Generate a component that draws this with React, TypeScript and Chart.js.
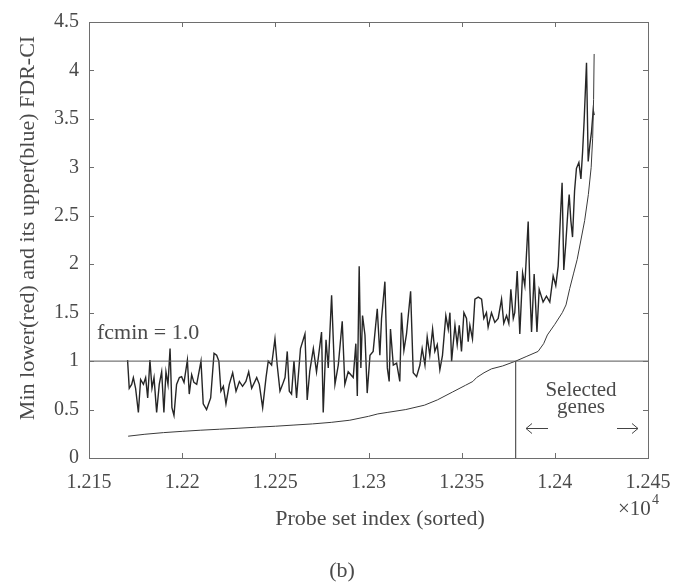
import React, { useEffect, useRef } from "react";
import { Chart, registerables } from "chart.js";

Chart.register(...registerables);

// ---- data -------------------------------------------------------------
const xTickLabels = ["1.215", "1.22", "1.225", "1.23", "1.235", "1.24", "1.245"];
const yTickLabels = ["0", "0.5", "1", "1.5", "2", "2.5", "3", "3.5", "4", "4.5"];
const xMin = 12150;
const xMax = 12450;
const xStep = 50;
const yMin = 0;
const yMax = 4.5;
const yStep = 0.5;

const fcmin = 1.0;
const cutoffIndex = 12379;

// upper (jagged) FDR-CI curve
const upperIdx = [
  12170.7, 12171.6, 12172.9, 12173.8, 12175.0, 12176.5, 12177.7, 12179.2, 12180.4, 12181.5,
  12182.7, 12183.8, 12184.9, 12186.3, 12187.7, 12189.0, 12190.2, 12191.3, 12192.4, 12193.5,
  12194.5, 12195.6, 12197.0, 12198.5, 12199.7, 12201.0, 12202.8, 12203.8, 12205.1, 12206.3,
  12207.8, 12210.1, 12211.3, 12213.1, 12215.3, 12217.1, 12218.5, 12219.7, 12220.8, 12222.1,
  12223.5, 12225.3, 12227.1, 12228.9, 12230.7, 12232.4, 12234.2, 12235.7, 12237.3, 12240.0,
  12241.4, 12243.2, 12245.0, 12246.2, 12248.0, 12249.8, 12251.0, 12252.5, 12253.9, 12255.2,
  12256.4, 12257.5, 12258.7, 12260.0, 12261.4, 12263.5, 12265.9, 12267.1, 12268.5, 12270.4,
  12272.1, 12274.8, 12275.7, 12277.2, 12278.4, 12280.2, 12282.0, 12283.8, 12285.9, 12287.3,
  12289.1, 12291.8, 12293.2, 12294.0, 12295.0, 12295.9, 12296.8, 12298.1, 12299.3, 12300.8,
  12302.5, 12304.7, 12306.1, 12307.0, 12308.8, 12310.1, 12311.1, 12311.8, 12313.3, 12315.1,
  12316.8, 12317.7, 12319.0, 12320.4, 12322.6, 12324.0, 12325.8, 12327.6, 12328.8, 12330.3,
  12331.5, 12332.9, 12334.4, 12335.6, 12336.9, 12338.3, 12339.7, 12341.5, 12342.8, 12343.7,
  12344.6, 12346.4, 12347.6, 12348.7, 12349.9, 12351.2, 12352.6, 12353.5, 12354.4, 12355.8,
  12357.1, 12358.9, 12360.7, 12361.9, 12363.3, 12364.2, 12366.0, 12367.8, 12369.6, 12371.4,
  12372.6, 12374.1, 12375.3, 12376.4, 12377.7, 12378.5, 12379.8, 12381.2, 12382.7, 12383.9,
  12385.7, 12386.6, 12387.5, 12388.9, 12390.4, 12391.6, 12393.7, 12395.5, 12397.3, 12399.1,
  12400.5, 12401.8, 12403.0, 12403.9, 12404.8, 12405.9, 12407.0, 12407.7, 12408.6, 12409.5,
  12410.6, 12411.6, 12412.9, 12414.0, 12414.9, 12415.7, 12417.0, 12417.9, 12418.8, 12419.7,
  12420.6, 12421.1,
];
const upperVal = [
  1.01, 0.72, 0.76, 0.83, 0.72, 0.47, 0.81, 0.76, 0.83, 0.62,
  1.01, 0.72, 0.83, 0.47, 0.76, 0.89, 0.47, 0.89, 0.76, 1.13,
  0.52, 0.44, 0.76, 0.83, 0.84, 0.78, 1.01, 0.66, 0.86, 0.78,
  0.76, 1.0, 0.56, 0.5, 0.62, 1.08, 1.06, 1.0, 0.69, 0.74,
  0.56, 0.76, 0.88, 0.69, 0.79, 0.74, 0.79, 0.89, 0.72, 0.83,
  0.76, 0.52, 0.83, 1.0, 0.96, 1.23, 0.96, 0.69, 0.76, 0.83,
  1.1, 0.69, 0.66, 1.0, 0.62, 1.13, 1.28, 0.6, 0.9, 1.13,
  0.89, 1.3, 0.47, 1.22, 0.93, 1.68, 0.76, 0.96, 1.41, 0.76,
  0.89, 0.83, 1.18, 0.64, 1.98, 0.93, 1.47, 1.27, 0.67, 1.06,
  1.1, 1.54, 1.06, 1.44, 1.82, 0.93, 0.79, 1.33, 0.96, 0.98,
  0.79, 1.5, 1.11, 1.28, 1.72, 0.88, 0.84, 0.96, 1.13, 0.96,
  1.25, 1.06, 1.33, 1.1, 1.17, 0.91, 1.06, 1.47, 1.33, 1.5,
  1.0, 1.37, 1.17, 1.37, 1.1, 1.5, 1.44, 1.2, 1.37, 1.23,
  1.64, 1.66, 1.64, 1.44, 1.5, 1.35, 1.5, 1.4, 1.44, 1.64,
  1.39, 1.47, 1.39, 1.74, 1.44, 1.5, 1.93, 1.28, 1.91, 1.78,
  2.44, 1.75, 1.3, 1.9, 1.3, 1.74, 1.61, 1.67, 1.61, 1.88,
  1.78, 1.98, 2.49, 2.84, 1.94, 2.22, 2.55, 2.72, 2.45, 2.28,
  2.76, 2.99, 3.05, 2.88, 3.16, 3.47, 4.08, 3.06, 3.23, 3.37,
  3.59, 3.54,
];

// lower (smooth) FDR-CI curve
const lowerIdx = [
  12171, 12180, 12190, 12200, 12210, 12220, 12230, 12240, 12250, 12260,
  12270, 12280, 12290, 12300, 12305, 12310, 12320, 12330, 12337, 12345,
  12352, 12356, 12358, 12362, 12366, 12372, 12379, 12385, 12391, 12394,
  12396, 12400, 12404, 12406, 12408, 12410, 12412, 12414, 12416, 12418,
  12419.5, 12420.3, 12420.8, 12421.1,
];
const lowerVal = [
  0.225, 0.245, 0.262, 0.275, 0.287, 0.297, 0.307, 0.318, 0.328, 0.34,
  0.352, 0.368, 0.39, 0.43, 0.455, 0.47, 0.5, 0.545, 0.6, 0.68,
  0.75, 0.79, 0.83, 0.88, 0.92, 0.95, 1.0, 1.05, 1.1, 1.18,
  1.27, 1.38, 1.5, 1.58, 1.75, 1.9, 2.05, 2.25, 2.45, 2.72,
  3.0, 3.3, 3.7, 4.17,
];

// ---- drawing ----------------------------------------------------------
const SERIF = "'Liberation Serif', 'Times New Roman', serif";
const TEXT = "#4a4a4a";

function drawArrow(ctx: CanvasRenderingContext2D, x0: number, x1: number, y: number) {
  const dir = x1 > x0 ? 1 : -1;
  ctx.beginPath();
  ctx.moveTo(x0, y);
  ctx.lineTo(x1, y);
  ctx.moveTo(x1 - dir * 6, y - 5);
  ctx.lineTo(x1, y);
  ctx.lineTo(x1 - dir * 6, y + 5);
  ctx.stroke();
}

const framePlugin = {
  id: "frameAndText",
  afterDraw(chart: any) {
    const { ctx, chartArea, scales } = chart;
    const { left, right, top, bottom } = chartArea;
    const xs = scales.x;
    const ys = scales.y;
    ctx.save();
    ctx.strokeStyle = "#6e6e6e";
    ctx.lineWidth = 1;
    ctx.strokeRect(Math.round(left) + 0.5, Math.round(top) + 0.5, Math.round(right - left), Math.round(bottom - top));
    const tl = 5;
    ctx.beginPath();
    xs.ticks.forEach((t: any) => {
      const px = Math.round(xs.getPixelForValue(t.value)) + 0.5;
      ctx.moveTo(px, bottom);
      ctx.lineTo(px, bottom - tl);
      ctx.moveTo(px, top);
      ctx.lineTo(px, top + tl);
    });
    ys.ticks.forEach((t: any) => {
      const py = Math.round(ys.getPixelForValue(t.value)) + 0.5;
      ctx.moveTo(left, py);
      ctx.lineTo(left + tl, py);
      ctx.moveTo(right, py);
      ctx.lineTo(right - tl, py);
    });
    ctx.stroke();

    ctx.fillStyle = TEXT;
    // axis titles
    ctx.font = `22px ${SERIF}`;
    ctx.textAlign = "center";
    ctx.textBaseline = "middle";
    ctx.fillText("Probe set index (sorted)", 380, 519);
    ctx.save();
    ctx.translate(28, 228);
    ctx.rotate(-Math.PI / 2);
    ctx.fillText("Min lower(red) and its upper(blue) FDR-CI", 0, 0);
    ctx.restore();
    // x10^4
    ctx.textAlign = "left";
    ctx.font = `21px ${SERIF}`;
    ctx.fillText("\u00d710", 618, 509);
    ctx.font = `14px ${SERIF}`;
    ctx.fillText("4", 652, 500);
    // caption
    ctx.textAlign = "center";
    ctx.font = `22px ${SERIF}`;
    ctx.fillText("(b)", 342, 571);
    // annotations
    ctx.textAlign = "left";
    ctx.textBaseline = "alphabetic";
    ctx.fillText("fcmin = 1.0", 97, 339);
    ctx.textAlign = "center";
    ctx.font = `21px ${SERIF}`;
    ctx.fillText("Selected", 581, 396);
    ctx.fillText("genes", 581, 413);
    ctx.strokeStyle = "#444";
    ctx.lineWidth = 1;
    drawArrow(ctx, 548, 526, 428.5);
    drawArrow(ctx, 617, 638, 428.5);
    ctx.restore();
  },
};

export default function App() {
  const ref = useRef<HTMLCanvasElement | null>(null);
  useEffect(() => {
    if (!ref.current) return;
    const upper = upperIdx.map((x, i) => ({ x, y: upperVal[i] }));
    const lower = lowerIdx.map((x, i) => ({ x, y: lowerVal[i] }));
    const chart = new Chart(ref.current, {
      type: "line",
      data: {
        datasets: [
          {
            data: [
              { x: xMin, y: fcmin },
              { x: xMax, y: fcmin },
            ],
            borderColor: "#555",
            borderWidth: 1,
            pointRadius: 0,
          },
          {
            data: [
              { x: cutoffIndex, y: yMin },
              { x: cutoffIndex, y: fcmin },
            ],
            borderColor: "#333",
            borderWidth: 1,
            pointRadius: 0,
          },
          {
            data: lower,
            borderColor: "#3a3a3a",
            borderWidth: 1,
            pointRadius: 0,
          },
          {
            data: upper,
            borderColor: "#262626",
            borderWidth: 1.4,
            pointRadius: 0,
          },
        ],
      },
      options: {
        animation: false,
        responsive: false,
        parsing: false as any,
        layout: { padding: { left: 0, right: 37, top: 15, bottom: 0 } },
        plugins: { legend: { display: false }, tooltip: { enabled: false } },
        elements: { line: { tension: 0 } },
        scales: {
          x: {
            type: "linear",
            min: xMin,
            max: xMax,
            grid: { display: false, drawTicks: false },
            border: { display: false },
            ticks: {
              stepSize: xStep,
              autoSkip: false,
              maxRotation: 0,
              padding: 13,
              color: TEXT,
              font: { family: SERIF, size: 20 },
              callback: (v: any) => xTickLabels[Math.round((Number(v) - xMin) / xStep)],
            },
            afterFit: (s: any) => {
              s.height = 125;
            },
          },
          y: {
            type: "linear",
            min: yMin,
            max: yMax,
            grid: { display: false, drawTicks: false },
            border: { display: false },
            ticks: {
              stepSize: yStep,
              padding: 10,
              color: TEXT,
              font: { family: SERIF, size: 20 },
              callback: (v: any) => yTickLabels[Math.round((Number(v) - yMin) / yStep)],
            },
            afterFit: (s: any) => {
              s.width = 89;
            },
          },
        },
      },
      plugins: [framePlugin],
    });
    return () => chart.destroy();
  }, []);
  return (
    <div style={{ position: "absolute", left: 0, top: 0, width: 685, height: 583, background: "#fff" }}>
      <canvas ref={ref} width={685} height={583} style={{ display: "block" }} />
    </div>
  );
}
